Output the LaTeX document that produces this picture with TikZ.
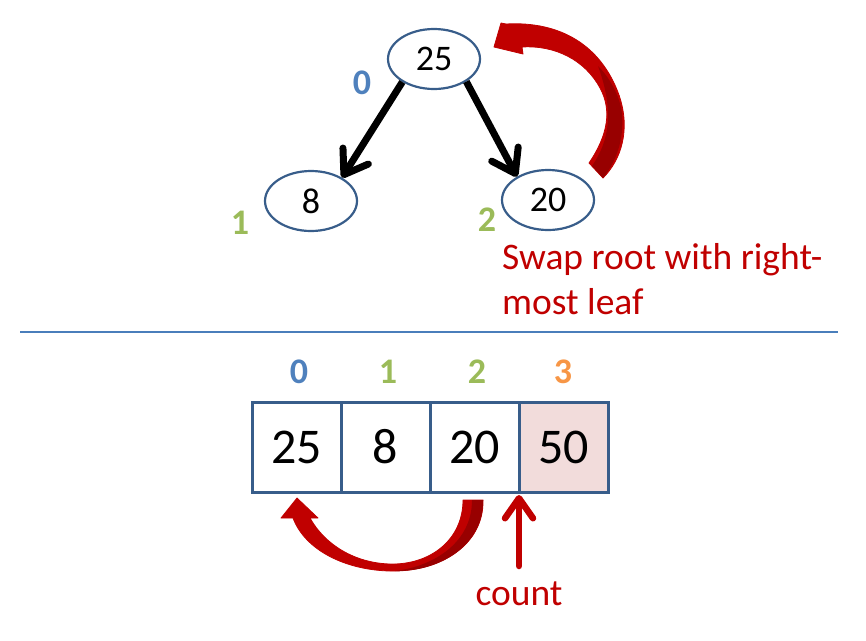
\documentclass[tikz,border=0pt]{standalone}
\usepackage{fontspec}
\setmainfont{Carlito}
\usetikzlibrary{shapes.geometric,arrows.meta}
\definecolor{bordc}{HTML}{385D8A}
\definecolor{sepc}{HTML}{4A7EBB}
\definecolor{idxblue}{HTML}{4F81BD}
\definecolor{idxgreen}{HTML}{9BBB59}
\definecolor{idxorange}{HTML}{F79646}
\definecolor{pinkc}{HTML}{F2DCDB}
\definecolor{redc}{HTML}{C00000}
\definecolor{darkredc}{HTML}{980000}
\begin{document}
\begin{tikzpicture}[x=1pt,y=-1pt,
  tnode/.style={ellipse, draw=bordc, line width=2.2pt, minimum width=92pt, minimum height=60pt, inner sep=0pt, font=\fontsize{36}{40}\selectfont},
  cell/.style={rectangle, draw=bordc, line width=3pt, minimum width=89pt, minimum height=90pt, inner sep=0pt, font=\fontsize{50}{56}\selectfont},
  idx/.style={inner sep=0pt, font=\fontsize{36}{40}\selectfont\bfseries},
  redtext/.style={inner sep=0pt, text=redc, font=\fontsize{37.5}{45}\selectfont},
  tarrow/.style={line width=7pt, -{Straight Barb[length=22pt,width=30pt,round]}},
  carrow/.style={line width=6.5pt, redc, line cap=round, -{Straight Barb[length=20pt,width=28pt,round]}},
  sepline/.style={draw=sepc, line width=1.2pt},
  bigarrow/.style={fill=redc, draw=redc, line width=0.8pt, line join=round},
  shade/.style={fill=darkredc}
]
\path[use as bounding box] (0,0) rectangle (866,640);

% tree
\node[tnode] (r) at (434,59) {25};
\node[tnode] (a) at (311,201) {8};
\node[tnode] (b) at (548,200) {20};
\node[idx, text=idxblue] (l0) at (362,83) {0};
\node[idx, text=idxgreen] (l1) at (240,223) {1};
\node[idx, text=idxgreen] (l2) at (487,220) {2};
\draw[tarrow] (r.-144) -- (a.37);
\draw[tarrow] (r.-35) -- (b.143);

% top curved arrow
\path[bigarrow] (494,47) -- (501,23) -- (506,24)
  .. controls (560,21) and (601,45) .. (619,95)
  .. controls (631,130) and (621,160) .. (603,178)
  -- (589,163)
  .. controls (608,135) and (612,110) .. (600,88)
  .. controls (585,60) and (555,45) .. (522,47)
  -- (523,54) -- cycle;
\path[shade] (598,66) .. controls (612,80) and (621,100) .. (622,115)
  .. controls (624,140) and (616,162) .. (603,178)
  -- (592,166) .. controls (610,140) and (614,110) .. (598,66) -- cycle;

\node[redtext, anchor=north west, align=left] (swap) at (502,243) {Swap root with right-\\most leaf};

% separator
\draw[sepline] (20,332) -- (838,332);

% array
\node[idx, text=idxblue] (i0) at (299,372) {0};
\node[idx, text=idxgreen] (i1) at (388,372) {1};
\node[idx, text=idxgreen] (i2) at (477,372) {2};
\node[idx, text=idxorange] (i3) at (563,372) {3};
\node[cell] (c0) at (296.5,447) {25};
\node[cell] (c1) at (385.5,447) {8};
\node[cell] (c2) at (474.5,447) {20};
\node[cell, fill=pinkc] (c3) at (563.5,447) {50};

% bottom curved arrow
\path[bigarrow] (463,500) -- (483,500)
  .. controls (484,545) and (440,572) .. (390,571)
  .. controls (345,570) and (305,550) .. (293,518)
  -- (281,518) -- (297,498) -- (318,518) -- (310,518)
  .. controls (325,545) and (355,563) .. (390,564)
  .. controls (430,565) and (463,540) .. (463,500) -- cycle;
\path[shade] (472,500) -- (483,500)
  .. controls (484,545) and (440,572) .. (395,571)
  .. controls (435,566) and (472,542) .. (472,500) -- cycle;

% count arrow
\coordinate (ctail) at (519,566);
\coordinate (chead) at (519,495);
\draw[carrow] (ctail) -- (chead);
\node[redtext, anchor=base] (count) at (519,605) {count};
\end{tikzpicture}
\end{document}
